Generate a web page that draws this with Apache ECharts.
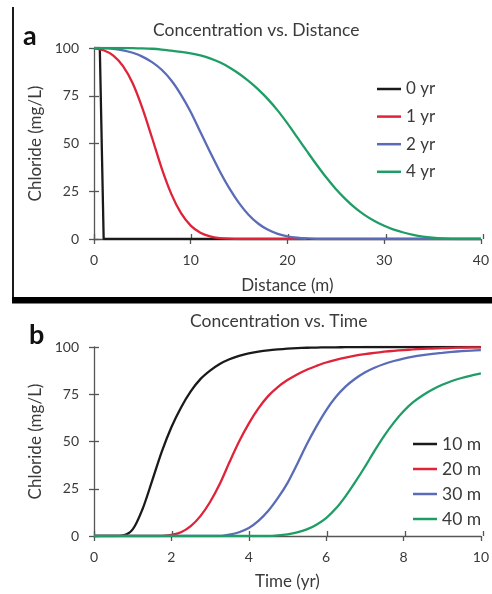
<!DOCTYPE html>
<html>
<head>
<meta charset="utf-8">
<script src="https://cdn.jsdelivr.net/npm/echarts@6/dist/echarts.min.js"></script>
<style>
html,body{margin:0;padding:0;background:#fff;}
#c{width:492px;height:594px;}
</style>
</head>
<body>
<div id="c"></div>
<script>
// ---- Panel a: Concentration vs. Distance (x = m, y = mg/L)
const yr0X = [0, 0.6, 1, 40];
const yr0Y = [100, 100, 0, 0];
const yr1X = [0, 1, 2, 3, 4, 5, 6, 7, 8, 9, 10, 11, 12, 13, 14, 15, 16, 17, 18, 19, 20, 21, 22];
const yr1Y = [100, 98.8, 96, 90.5, 81.5, 68.5, 53, 37, 23.5, 13.5, 7, 3.3, 1.4, 0.5, 0.15, 0, 0, 0, 0, 0, 0, 0, 0];
const yr2X = [0, 1, 2, 3, 4, 5, 6, 7, 8, 9, 10, 11, 12, 13, 14, 15, 16, 17, 18, 19, 20, 21, 22, 23, 24, 25, 26, 27, 28, 29, 30, 31, 32, 33, 34, 35, 36, 37, 38, 39, 40];
const yr2Y = [100, 99.9, 99.5, 98.8, 97.5, 95.5, 92.6, 88.6, 83, 75.5, 66.5, 56, 45.5, 35.5, 26.5, 18.8, 12.6, 8, 4.8, 2.7, 1.4, 0.7, 0.3, 0.1, 0, 0, 0, 0, 0, 0, 0, 0, 0, 0, 0, 0, 0, 0, 0, 0, 0];
const yr4X = [0, 1, 2, 3, 4, 5, 6, 7, 8, 9, 10, 11, 12, 13, 14, 15, 16, 17, 18, 19, 20, 21, 22, 23, 24, 25, 26, 27, 28, 29, 30, 31, 32, 33, 34, 35, 36, 37, 38, 39, 40];
const yr4Y = [100, 100, 100, 100, 99.9, 99.8, 99.6, 99.2, 98.6, 98, 97.2, 96.1, 94.6, 92.5, 89.8, 86.5, 82.6, 78.2, 73.1, 67.2, 60.5, 53.3, 46.1, 39, 32.3, 26.2, 20.9, 16.3, 12.5, 9.4, 6.9, 4.9, 3.4, 2.2, 1.3, 0.7, 0.3, 0.1, 0, 0, 0];

// ---- Panel b: Concentration vs. Time (x = yr, y = mg/L)
const timeB = [0, 0.25, 0.5, 0.75, 1, 1.25, 1.5, 1.75, 2, 2.25, 2.5, 2.75, 3, 3.25, 3.5, 3.75, 4, 4.25, 4.5, 4.75, 5, 5.25, 5.5, 5.75, 6, 6.25, 6.5, 6.75, 7, 7.25, 7.5, 7.75, 8, 8.25, 8.5, 8.75, 9, 9.25, 9.5, 9.75, 10];
const m10Y = [0, 0, 0, 0.3, 3.5, 14, 29, 44.5, 57.5, 68, 76.5, 83, 87.5, 91, 93.5, 95.3, 96.6, 97.5, 98.2, 98.7, 99.1, 99.4, 99.6, 99.7, 99.8, 99.85, 99.9, 99.9, 100, 100, 100, 100, 100, 100, 100, 100, 100, 100, 100, 100, 100];
const m20Y = [0, 0, 0, 0, 0, 0, 0, 0.1, 0.6, 2, 5.2, 10.5, 18, 27.5, 39, 50, 59.5, 67.5, 74, 78.8, 82.5, 85.5, 88, 90, 91.8, 93.2, 94.4, 95.4, 96.2, 96.9, 97.5, 98, 98.4, 98.7, 99, 99.2, 99.4, 99.55, 99.7, 99.75, 99.8];
const m30Y = [0, 0, 0, 0, 0, 0, 0, 0, 0, 0, 0, 0, 0, 0, 0.7, 2, 4.2, 8, 13.2, 20, 28, 38, 48.5, 58, 66.5, 73.5, 79, 83.2, 86.5, 89, 91, 92.6, 93.9, 94.9, 95.7, 96.4, 96.9, 97.4, 97.8, 98.1, 98.4];
const m40Y = [0, 0, 0, 0, 0, 0, 0, 0, 0, 0, 0, 0, 0, 0, 0, 0, 0, 0, 0, 0.3, 0.9, 1.9, 3.5, 6, 9.5, 14.5, 21, 28.5, 36.5, 45, 53, 60, 66, 70.8, 74.5, 77.5, 80, 82, 83.6, 84.9, 86];

const namesA = ['0 yr', '1 yr', '2 yr', '4 yr'];
const namesB = ['10 m', '20 m', '30 m', '40 m'];
const ticksY = [0, 25, 50, 75, 100];

const COLORS = ['#1a1a1a', '#df2339', '#5a6cb8', '#1f9d66'];
const TXT = '#3a3a3a';
const AX = '#555555';
const FONT = 'Lato';

function zip(xs, ys) { return xs.map((x, i) => [x, ys[i]]); }

function mainX(max, interval, name, gap) {
  return {
    type: 'value', min: 0, max: max, interval: interval,
    name: name, nameLocation: 'middle', nameGap: gap,
    nameTextStyle: { fontSize: 17, color: TXT, fontFamily: FONT },
    axisLine: { show: true, onZero: false, lineStyle: { color: AX, width: 1.3 } },
    axisTick: { show: true, length: 5, lineStyle: { color: AX, width: 1.3 } },
    axisLabel: { fontSize: 14, color: TXT, margin: 14, fontFamily: FONT },
    splitLine: { show: false }
  };
}
function mainY(gridIdx) {
  return {
    type: 'value', min: ticksY[0], max: ticksY[ticksY.length - 1], interval: 25,
    gridIndex: gridIdx,
    name: 'Chloride (mg/L)', nameLocation: 'middle', nameGap: 41, nameRotate: 90,
    nameTextStyle: { fontSize: 17, color: TXT, fontFamily: FONT },
    axisLine: { show: true, lineStyle: { color: AX, width: 1.3 } },
    axisTick: { show: true, length: 5, lineStyle: { color: AX, width: 1.3 } },
    axisLabel: { fontSize: 14, color: TXT, margin: 15, fontFamily: FONT },
    splitLine: { show: false }
  };
}
function innerAxis(gridIdx, max, interval) {
  return {
    type: 'value', gridIndex: gridIdx, min: 0, max: max, interval: interval,
    axisLine: { show: false },
    axisTick: { show: true, inside: true, length: 5, lineStyle: { color: AX, width: 1.3 } },
    axisLabel: { show: false }, splitLine: { show: false }
  };
}
function lineSeries(name, xs, ys, color, gi, smooth) {
  return {
    type: 'line', name: name, xAxisIndex: gi, yAxisIndex: gi,
    data: zip(xs, ys), symbol: 'none', showSymbol: false,
    smooth: smooth ? 0.3 : false,
    lineStyle: { color: color, width: 2.3 }, itemStyle: { color: color },
    z: 3
  };
}

const xa = mainX(40, 10, 'Distance (m)', 38); xa.gridIndex = 0;
const xb = mainX(10, 2, 'Time (yr)', 37); xb.gridIndex = 2;

const option = {
  animation: false,
  backgroundColor: '#ffffff',
  textStyle: { fontFamily: FONT },
  title: [
    { text: 'Concentration vs. Distance', left: 153, top: 21, padding: 0,
      textStyle: { fontSize: 17.5, fontWeight: 'normal', color: TXT, fontFamily: FONT } },
    { text: 'a', left: 23, top: 23, padding: 0,
      textStyle: { fontSize: 27, fontWeight: 'bold', color: '#111', fontFamily: FONT } },
    { text: 'Concentration vs. Time', left: 190, top: 312, padding: 0,
      textStyle: { fontSize: 17.5, fontWeight: 'normal', color: TXT, fontFamily: FONT } },
    { text: 'b', left: 29, top: 322, padding: 0,
      textStyle: { fontSize: 27, fontWeight: 'bold', color: '#111', fontFamily: FONT } }
  ],
  grid: [
    { left: 94, top: 48, width: 389, height: 191 },
    { left: 94, top: 48, width: 389, height: 191 },
    { left: 94, top: 347, width: 389, height: 189 },
    { left: 94, top: 347, width: 389, height: 189 }
  ],
  xAxis: [xa, innerAxis(1, 40, 10), xb, innerAxis(3, 10, 2)],
  yAxis: [mainY(0), innerAxis(1, 100, 25), mainY(2), innerAxis(3, 100, 25)],
  legend: [
    { data: namesA, orient: 'vertical', left: 377, top: 80, padding: 0,
      icon: 'rect', itemWidth: 24, itemHeight: 2.5, itemGap: 9.6,
      textStyle: { fontSize: 17, color: TXT, lineHeight: 18, fontFamily: FONT } },
    { data: namesB, orient: 'vertical', left: 413, top: 435, padding: 0,
      icon: 'rect', itemWidth: 24, itemHeight: 2.5, itemGap: 7,
      textStyle: { fontSize: 17.5, color: TXT, lineHeight: 18, fontFamily: FONT } }
  ],
  series: [
    lineSeries(namesA[0], yr0X, yr0Y, COLORS[0], 0, false),
    lineSeries(namesA[1], yr1X, yr1Y, COLORS[1], 0, true),
    lineSeries(namesA[2], yr2X, yr2Y, COLORS[2], 0, true),
    lineSeries(namesA[3], yr4X, yr4Y, COLORS[3], 0, true),
    lineSeries(namesB[0], timeB, m10Y, COLORS[0], 2, true),
    lineSeries(namesB[1], timeB, m20Y, COLORS[1], 2, true),
    lineSeries(namesB[2], timeB, m30Y, COLORS[2], 2, true),
    lineSeries(namesB[3], timeB, m40Y, COLORS[3], 2, true)
  ],
  graphic: [
    { type: 'line', shape: { x1: 13, y1: 7, x2: 13, y2: 298 }, style: { stroke: '#1a1a1a', lineWidth: 2 } },
    { type: 'rect', shape: { x: 12, y: 297, width: 480, height: 6.5 }, style: { fill: '#000' } }
  ]
};

const chart = echarts.init(document.getElementById('c'), null, { renderer: 'canvas' });
chart.setOption(option);
</script>
</body>
</html>
